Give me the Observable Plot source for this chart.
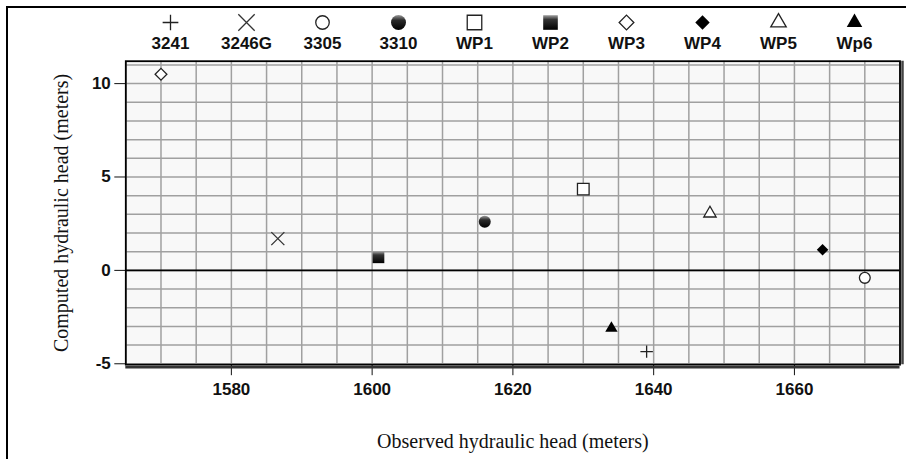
<!DOCTYPE html>
<html><head><meta charset="utf-8">
<script src="https://cdn.jsdelivr.net/npm/d3@7"></script>
<script src="https://cdn.jsdelivr.net/npm/@observablehq/plot@0.6"></script>
<style>
html,body{margin:0;padding:0;background:#fff}
body{width:906px;height:459px;overflow:hidden;position:relative;font-family:"Liberation Sans",Arial,sans-serif}
#legend{position:absolute;left:0;top:0}
#chart{position:absolute;left:0;top:60px}
#frame{position:absolute;left:6px;top:6px;width:906px;height:460px;border-left:2px solid #000;border-top:2px solid #000;pointer-events:none}
svg{overflow:visible}
</style></head><body>
<div id="legend"></div><div id="chart"></div><div id="frame"></div>
<script>
// ---- data ----
const wells    = ["3241", "3246G", "3305", "3310", "WP1", "WP2", "WP3", "WP4", "WP5", "Wp6"];
const observed = [1639, 1586.6, 1670, 1616, 1630, 1600.9, 1570, 1664, 1648, 1634];
const computed = [-4.35, 1.7, -0.4, 2.6, 4.35, 0.7, 10.5, 1.1, 3.05, -3.1];
const xTicks = [1580, 1600, 1620, 1640, 1660];
const yTicks = [-5, 0, 5, 10];
const xDomain = [1565, 1675];
const yDomain = [-5.05, 11.2];
const xLabel = "Observed hydraulic head (meters)";
const yLabel = "Computed hydraulic head (meters)";

// ---- styles ----
const styles = {
  "3241":  {symbol: "plus",      fill: "none",              stroke: "#222", r: 4.1},
  "3246G": {symbol: "times",     fill: "none",              stroke: "#333", r: 6},
  "3305":  {symbol: "circle",    fill: "white",             stroke: "#222", r: 5.4},
  "3310":  {symbol: "circle",    fill: "url(#gradBall)",    stroke: "none", r: 6},
  "WP1":   {symbol: "square2",   fill: "white",             stroke: "#222", r: 7.4},
  "WP2":   {symbol: "square",    fill: "url(#gradSquare)",  stroke: "none", r: 6.6},
  "WP3":   {symbol: "diamond2",  fill: "white",             stroke: "#222", r: 5.3},
  "WP4":   {symbol: "diamond2",  fill: "#000",              stroke: "none", r: 5.2},
  "WP5":   {symbol: "triangle2", fill: "white",             stroke: "#222", r: 5.9},
  "Wp6":   {symbol: "triangle",  fill: "#000",              stroke: "none", r: 4.6}
};
const sans = "'Liberation Sans', Arial, Helvetica, sans-serif";
const serif = "'Liberation Serif', 'Times New Roman', Times, serif";

// gradient definitions (custom render mark)
function defsMark() {
  const ns = "http://www.w3.org/2000/svg";
  const defs = document.createElementNS(ns, "defs");
  defs.innerHTML = `
    <linearGradient id="gradBall" x1="0" y1="0" x2="0" y2="1">
      <stop offset="0" stop-color="#9a9a9a"/><stop offset="0.35" stop-color="#2a2a2a"/><stop offset="1" stop-color="#000"/>
    </linearGradient>
    <linearGradient id="gradSquare" x1="0" y1="0" x2="0" y2="1">
      <stop offset="0" stop-color="#a0a0a0"/><stop offset="0.3" stop-color="#333"/><stop offset="1" stop-color="#000"/>
    </linearGradient>`;
  return defs;
}

// ---- legend ----
const legend = Plot.plot({
  width: 906, height: 60, margin: 0,
  x: {type: "point", domain: wells, range: [166, 857], padding: 0, axis: null},
  style: {fontFamily: sans, background: "transparent", overflow: "visible"},
  marks: [
    ...wells.map(w => Plot.dot([w], {
      x: d => d, frameAnchor: "top", dy: 22,
      symbol: styles[w].symbol, r: styles[w].r * 1.25,
      fill: styles[w].fill, stroke: styles[w].stroke, strokeWidth: 1.3
    })),
    Plot.text(wells, {x: d => d, text: d => d, frameAnchor: "top", dy: 43.5,
      lineAnchor: "middle", textAnchor: "middle",
      fontSize: 17, fontWeight: "bold", fill: "#111"})
  ]
});
document.getElementById("legend").appendChild(legend);

// ---- main chart ----
const chart = Plot.plot({
  width: 906, height: 399,
  marginTop: 0.7, marginBottom: 94.8, marginLeft: 125.3, marginRight: 6.5,
  x: {domain: xDomain, ticks: xTicks, tickSize: 11, tickPadding: 7, label: null, tickFormat: d => String(d)},
  y: {domain: yDomain, ticks: yTicks, tickSize: 11, tickPadding: 4, label: null, tickFormat: d => String(d)},
  style: {fontFamily: sans, fontSize: "17px", fontWeight: "bold", color: "#111", background: "transparent", overflow: "visible"},
  marks: [
    defsMark,
    Plot.frame({fill: "#f8f8f8", stroke: null}),
    Plot.ruleX(d3.range(xDomain[0], xDomain[1] + 1, 5), {stroke: "#a0a0a0", strokeWidth: 1.5}),
    Plot.ruleY(d3.range(-5, 12, 1), {stroke: "#a0a0a0", strokeWidth: 1.5}),
    Plot.ruleY([0], {stroke: "#000", strokeWidth: 1.8}),
    Plot.ruleX([xDomain[1]], {dx: 2.5, stroke: "#444", strokeWidth: 2.5}),
    Plot.ruleY([yDomain[0]], {dy: 2.5, stroke: "#333", strokeWidth: 2.5}),
    Plot.frame({stroke: "#000", strokeWidth: 1.8}),
    Plot.text([xLabel], {text: d => d, frameAnchor: "bottom", dy: 77,
      lineAnchor: "middle", textAnchor: "middle",
      fontFamily: serif, fontSize: 20, fontWeight: "normal", fill: "#111"}),
    Plot.text([yLabel], {text: d => d, frameAnchor: "left", dx: -64, rotate: -90,
      lineAnchor: "middle", textAnchor: "middle",
      fontFamily: serif, fontSize: 20, fontWeight: "normal", fill: "#111"}),
    ...wells.map((w, i) => Plot.dot([i], {
      x: j => observed[j], y: j => computed[j],
      symbol: styles[w].symbol, r: styles[w].r,
      fill: styles[w].fill, stroke: styles[w].stroke, strokeWidth: 1.3
    }))
  ]
});
document.getElementById("chart").appendChild(chart);
</script>
</body></html>
